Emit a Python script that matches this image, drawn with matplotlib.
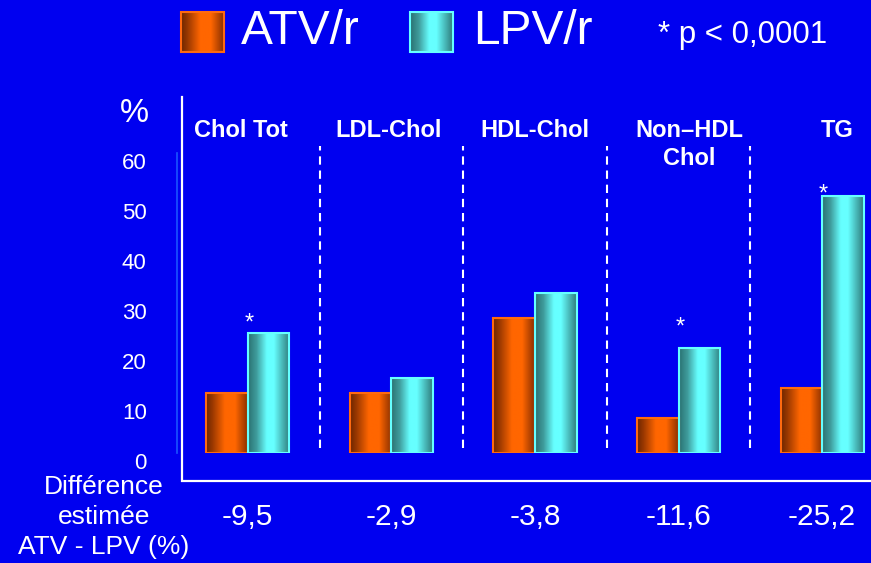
import numpy as np
import matplotlib
matplotlib.use('Agg')
import matplotlib.pyplot as plt
from matplotlib.colors import to_rgb
from matplotlib.patches import Rectangle
from matplotlib.transforms import ScaledTranslation

# ----------------------------------------------------------------------
# Data: lipid change from baseline (%) for each regimen
# ----------------------------------------------------------------------
categories = ['Chol Tot', 'LDL-Chol', 'HDL-Chol', 'Non–HDL\nChol', 'TG']
atv_values = [12, 12, 27, 7, 13]
lpv_values = [24, 15, 32, 21, 51.5]
significant = [True, False, False, True, True]
estimated_diff = ['-9,5', '-2,9', '-3,8', '-11,6', '-25,2']
y_ticks = [0, 10, 20, 30, 40, 50, 60]
series_names = ['ATV/r', 'LPV/r']
p_note = '* p < 0,0001'

# ----------------------------------------------------------------------
# Style
# ----------------------------------------------------------------------
W, H = 871, 563
BG = '#0000f0'
WHITE = 'white'
ATV_EDGE = '#ff6a10'
LPV_EDGE = '#66ffff'
ATV_STOPS = [(0.0, '#6e2600'), (0.15, '#9a3800'), (0.45, '#ff6600'),
             (0.7, '#ff6600'), (1.0, '#8a3000')]
LPV_STOPS = [(0.0, '#2a7272'), (0.2, '#3f9c9c'), (0.45, '#66ffff'),
             (0.62, '#66ffff'), (1.0, '#2f7c7c')]

plt.rcParams['font.family'] = ['Liberation Sans', 'DejaVu Sans']


def gradient_strip(stops, n=64):
    """Horizontal 1-row RGB image following the colour stops."""
    pos = [p for p, _ in stops]
    rgb = np.array([to_rgb(c) for _, c in stops])
    t = np.linspace(0, 1, n)
    img = np.stack([np.interp(t, pos, rgb[:, k]) for k in range(3)], axis=-1)
    return img[np.newaxis, :, :]


fig = plt.figure(figsize=(W / 100, H / 100), dpi=100, facecolor=BG)

# overlay in pixel coordinates for legend, frame and side captions
ov = fig.add_axes([0, 0, 1, 1], zorder=0)
ov.set_xlim(0, W)
ov.set_ylim(H, 0)
ov.axis('off')

# main chart: x=0..4 group centres, y in %
c0, step = 247.7, 143.6
base_px, px_per_unit = 453.0, 5.0
ax = fig.add_axes([177 / W, (H - base_px) / H, (W - 177) / W,
                   60 * px_per_unit / H], zorder=1)
ax.set_facecolor('none')

x = np.arange(len(categories))
width = 41.6 / step

atv_bars = ax.bar(x - width / 2, atv_values, width, facecolor='none',
                  edgecolor=ATV_EDGE, linewidth=1.5, zorder=3)
lpv_bars = ax.bar(x + width / 2, lpv_values, width, facecolor='none',
                  edgecolor=LPV_EDGE, linewidth=1.5, zorder=3)

atv_img = gradient_strip(ATV_STOPS)
lpv_img = gradient_strip(LPV_STOPS)
for bars, img in ((atv_bars, atv_img), (lpv_bars, lpv_img)):
    for p in bars:
        x0, w, h = p.get_x(), p.get_width(), p.get_height()
        ax.imshow(img, extent=(x0, x0 + w, 0, h), aspect='auto',
                  interpolation='bilinear', zorder=2)

ax.set_xlim((177 - c0) / step, (W - c0) / step)
ax.set_ylim(0, 60)
ax.set_xticks([])
ax.set_yticks(y_ticks)
ax.set_yticklabels([str(v) for v in y_ticks])
ax.tick_params(axis='y', length=0, pad=21.8, labelsize=16, labelcolor=WHITE)
shift = ScaledTranslation(0, -7.7 / 100, fig.dpi_scale_trans)
for lab in ax.get_yticklabels():
    lab.set_transform(lab.get_transform() + shift)
for side in ('top', 'right', 'bottom'):
    ax.spines[side].set_visible(False)
ax.spines['left'].set_color('#1a55ff')
ax.spines['left'].set_linewidth(1.2)

# dashed separators between groups
for i in range(len(categories) - 1):
    ax.plot([i + 0.5, i + 0.5], [1.0, 61.5], color=WHITE, lw=1.5,
            dashes=(4, 2.8), clip_on=False, zorder=4)

# group titles
title_shift_px = [-6.7, -3, 0, 10.5, 15]
for i, cat in enumerate(categories):
    ax.text(i + title_shift_px[i] / step, 66.8, cat, ha='center', va='top',
            color=WHITE, fontsize=17, fontweight='bold', linespacing=1.3,
            clip_on=False)

# significance stars above the LPV/r bars
star_rise_px = [16.6, 28.3, 8.3]
k = 0
for i, sig in enumerate(significant):
    if not sig:
        continue
    ax.annotate('*', xy=(i + 0.01, lpv_values[i]),
                xytext=(0, (star_rise_px[k] - 13.6) * 0.72),
                textcoords='offset points', ha='center', va='baseline',
                color=WHITE, fontsize=17, annotation_clip=False)
    k += 1

# estimated difference row
for i, d in enumerate(estimated_diff):
    ax.text(i, (base_px - 517) / px_per_unit, d, ha='center', va='center',
            color=WHITE, fontsize=21.5, clip_on=False)

# white L-shaped frame
ov.plot([182, 182, W], [97, 481, 481], color=WHITE, lw=1.6,
        solid_joinstyle='miter')

# y unit and row caption
ov.text(134.5, 113, '%', ha='center', va='center', color=WHITE, fontsize=23.5)
ov.text(104, 517, 'Différence\nestimée\nATV - LPV (%)', ha='center',
        va='center', multialignment='center', color=WHITE, fontsize=19,
        linespacing=1.32)

# legend
legend_boxes = [(181, 12, 42.6, 40), (409.7, 12, 42.9, 40)]
legend_text_x = [240.5, 473.6]
for (bx, by, bw, bh), img, edge, name, tx in zip(
        legend_boxes, (atv_img, lpv_img), (ATV_EDGE, LPV_EDGE),
        series_names, legend_text_x):
    ov.imshow(img, extent=(bx, bx + bw, by + bh, by), aspect='auto',
              interpolation='bilinear', zorder=2)
    ov.add_patch(Rectangle((bx, by), bw, bh, facecolor='none',
                           edgecolor=edge, lw=1.5, zorder=3))
    ov.text(tx, 31, name, ha='left', va='center', color=WHITE, fontsize=34.5)
ov.set_xlim(0, W)
ov.set_ylim(H, 0)

ov.text(658, 35, p_note, ha='left', va='center', color=WHITE, fontsize=22.5)

fig.savefig('out.png', dpi=100, facecolor=BG)
